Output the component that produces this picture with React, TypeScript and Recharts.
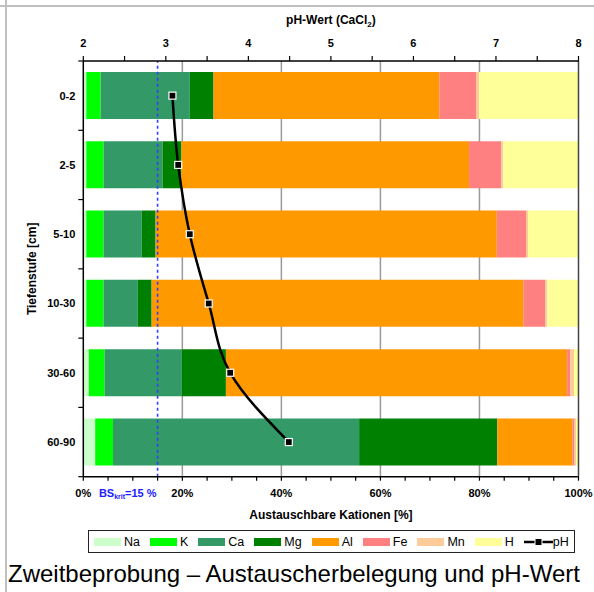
import React from "react";
import {
  Bar,
  CartesianGrid,
  ComposedChart,
  Label,
  Line,
  ReferenceLine,
  XAxis,
  YAxis,
} from "recharts";

const FONT = "'Liberation Sans', Arial, Helvetica, sans-serif";

// Tiefenstufen
const depths = ["0-2", "2-5", "5-10", "10-30", "30-60", "60-90"];

// Austauscherbelegung in %
const na = [0.6, 0.6, 0.6, 0.6, 1.1, 2.4];
const k = [2.9, 3.5, 3.5, 3.5, 3.2, 3.6];
const ca = [18.0, 11.9, 7.7, 6.9, 15.6, 49.7];
const mg = [4.8, 3.8, 2.8, 2.8, 8.9, 27.9];
const al = [45.6, 58.1, 68.9, 75.1, 68.9, 15.2];
const fe = [7.5, 6.5, 5.9, 4.4, 0.6, 0.4];
const mn = [0.5, 0.4, 0.4, 0.4, 0.8, 0.3];
const h = [20.1, 15.2, 10.2, 6.3, 0.9, 0.5];

// pH (CaCl2)
const ph = [3.08, 3.15, 3.29, 3.52, 3.78, 4.49];

const phTicks = [2, 2.5, 3, 3.5, 4, 4.5, 5, 5.5, 6, 6.5, 7, 7.5, 8];
const pctTicks = [0, 5, 10, 15, 20, 25, 30, 35, 40, 45, 50, 55, 60, 65, 70, 75, 80, 85, 90, 95, 100];
const gridValues = [20, 40, 60, 80];

const parts = [
  { key: "Na", values: na, color: "#ccffcc" },
  { key: "K", values: k, color: "#00ff00" },
  { key: "Ca", values: ca, color: "#339966" },
  { key: "Mg", values: mg, color: "#008000" },
  { key: "Al", values: al, color: "#ff9900" },
  { key: "Fe", values: fe, color: "#ff8080" },
  { key: "Mn", values: mn, color: "#ffcc99" },
  { key: "H", values: h, color: "#ffff99" },
];

const data = depths.map((d, i) => {
  const row: { [key: string]: string | number } = { depth: d, pH: ph[i] };
  for (const p of parts) row[p.key] = p.values[i];
  return row;
});

const PhTick = (props: any) => {
  const { x, y, payload } = props;
  if (!Number.isInteger(payload.value)) return null;
  return (
    <text x={x} y={y} textAnchor="middle" fontFamily={FONT} fontSize={11} fontWeight="bold" fill="#000">
      {payload.value}
    </text>
  );
};

const PctTick = (props: any) => {
  const { x, y, payload } = props;
  if (payload.value % 20 !== 0) return null;
  return (
    <text x={x} y={y} textAnchor="middle" fontFamily={FONT} fontSize={11} fontWeight="bold" fill="#000">
      {payload.value}%
    </text>
  );
};

const DepthTick = (props: any) => {
  const { x, y, payload, index } = props;
  const off = payload.offset || 0;
  const axisX = x + 8;
  return (
    <g>
      <line x1={axisX - 5} x2={axisX} y1={y + off} y2={y + off} stroke="#000" strokeWidth={1.2} />
      {index === 0 && (
        <line x1={axisX - 5} x2={axisX} y1={y - off} y2={y - off} stroke="#000" strokeWidth={1.2} />
      )}
      <text x={x} y={y + 4} textAnchor="end" fontFamily={FONT} fontSize={11} fontWeight="bold" fill="#000">
        {payload.value}
      </text>
    </g>
  );
};

const PhTitle = (props: any) => {
  const vb = props.viewBox;
  return (
    <text x={vb.x + vb.width / 2} y={vb.y - 7} textAnchor="middle" fontFamily={FONT} fontSize={12} fontWeight="bold" fill="#000">
      pH-Wert (CaCl<tspan fontSize={8} dy={3}>2</tspan>
      <tspan dy={-3}>)</tspan>
    </text>
  );
};

const PctTitle = (props: any) => {
  const vb = props.viewBox;
  return (
    <text x={vb.x + vb.width / 2} y={vb.y + 42} textAnchor="middle" fontFamily={FONT} fontSize={12} fontWeight="bold" fill="#000">
      Austauschbare Kationen [%]
    </text>
  );
};

const DepthTitle = (props: any) => {
  const vb = props.viewBox;
  const cx = 36;
  const cy = vb.y + vb.height / 2;
  return (
    <text x={cx} y={cy} transform={`rotate(-90 ${cx} ${cy})`} textAnchor="middle" fontFamily={FONT} fontSize={12} fontWeight="bold" fill="#000">
      Tiefenstufe [cm]
    </text>
  );
};

const BsLabel = (props: any) => {
  const vb = props.viewBox;
  return (
    <text x={vb.x - 1} y={vb.y + vb.height + 20.5} textAnchor="end" fontFamily={FONT} fontSize={11} fontWeight="bold" fill="#2020ff">
      BS<tspan fontSize={7} dy={2}>krit</tspan>
      <tspan dy={-2}>=15 %</tspan>
    </text>
  );
};

const SquareDot = (props: any) => {
  const { cx, cy } = props;
  if (cx == null || cy == null) return null;
  return <rect x={cx - 3.5} y={cy - 3.5} width={7} height={7} fill="#000" stroke="#fff" strokeWidth={1.2} />;
};

function ChartLegend() {
  return (
    <div
      style={{
        position: "absolute",
        left: 88,
        top: 530,
        width: 487,
        height: 23,
        boxSizing: "border-box",
        border: "1px solid #222",
        display: "flex",
        alignItems: "center",
        paddingLeft: 5,
        fontFamily: FONT,
        fontSize: 12.5,
        color: "#000",
        background: "#fff",
      }}
    >
      {parts.map((p) => (
        <div key={p.key} style={{ display: "flex", alignItems: "center", marginRight: 10 }}>
          <span style={{ display: "inline-block", width: 27, height: 8, background: p.color, marginRight: 3 }} />
          <span>{p.key}</span>
        </div>
      ))}
      <div style={{ display: "flex", alignItems: "center" }}>
        <svg width={29} height={10}>
          <line x1={0} x2={29} y1={5} y2={5} stroke="#000" strokeWidth={2.5} />
          <rect x={11} y={1.5} width={7} height={7} fill="#000" stroke="#fff" strokeWidth={1} />
        </svg>
        <span>pH</span>
      </div>
    </div>
  );
}

export default function App() {
  return (
    <div style={{ position: "absolute", left: 0, top: 0, width: 594, height: 592, background: "#fff", overflow: "hidden" }}>
      <div style={{ position: "absolute", left: 0, top: 5, width: 594, height: 2, background: "#c0c0c0" }} />
      <div style={{ position: "absolute", left: 5, top: 0, width: 2, height: 592, background: "#c0c0c0" }} />
      <div style={{ position: "absolute", left: 0, top: 0 }}>
        <ComposedChart
          layout="vertical"
          width={594}
          height={592}
          data={data}
          margin={{ top: 31, right: 15.5, bottom: 85.3, left: 23.3 }}
        >
          <CartesianGrid
            xAxisId="pct"
            horizontal={false}
            verticalValues={gridValues}
            stroke="#9a9a9a"
            strokeWidth={1.5}
          />
          <XAxis
            xAxisId="ph"
            orientation="top"
            type="number"
            domain={[2, 8]}
            ticks={phTicks}
            interval={0}
            height={30}
            tickSize={5}
            tickMargin={9}
            tick={PhTick}
            axisLine={{ stroke: "#000", strokeWidth: 1.5 }}
            tickLine={{ stroke: "#000", strokeWidth: 1.2 }}
            allowDataOverflow
          >
            <Label content={PhTitle} />
          </XAxis>
          <XAxis
            xAxisId="pct"
            orientation="bottom"
            type="number"
            domain={[0, 100]}
            ticks={pctTicks}
            interval={0}
            height={30}
            tickSize={4}
            tickMargin={16.3}
            tick={PctTick}
            axisLine={{ stroke: "#000", strokeWidth: 1.5 }}
            tickLine={{ stroke: "#000", strokeWidth: 1.2 }}
            allowDataOverflow
          >
            <Label content={PctTitle} />
          </XAxis>
          <YAxis
            type="category"
            dataKey="depth"
            width={60}
            interval={0}
            tickSize={0}
            tickMargin={8}
            tickLine={false}
            tick={DepthTick}
            axisLine={{ stroke: "#000", strokeWidth: 1.5 }}
          >
            <Label content={DepthTitle} />
          </YAxis>
          {parts.map((p) => (
            <Bar
              key={p.key}
              xAxisId="pct"
              dataKey={p.key}
              stackId="kat"
              fill={p.color}
              barSize={47}
              isAnimationActive={false}
            />
          ))}
          <ReferenceLine
            xAxisId="pct"
            x={15}
            stroke="#3040ff"
            strokeDasharray="3 3"
            strokeWidth={1.6}
            label={BsLabel}
          />
          <ReferenceLine xAxisId="pct" x={100} stroke="#444" strokeWidth={1.5} />
          <Line
            xAxisId="ph"
            dataKey="pH"
            type="monotone"
            stroke="#000"
            strokeWidth={2.5}
            dot={SquareDot}
            activeDot={false}
            isAnimationActive={false}
          />
        </ComposedChart>
      </div>
      <ChartLegend />
      <div
        style={{
          position: "absolute",
          left: 8,
          top: 561.5,
          fontFamily: FONT,
          fontSize: 24,
          lineHeight: "24px",
          whiteSpace: "nowrap",
          color: "#000",
        }}
      >
        Zweitbeprobung – Austauscherbelegung und pH-Wert
      </div>
    </div>
  );
}
